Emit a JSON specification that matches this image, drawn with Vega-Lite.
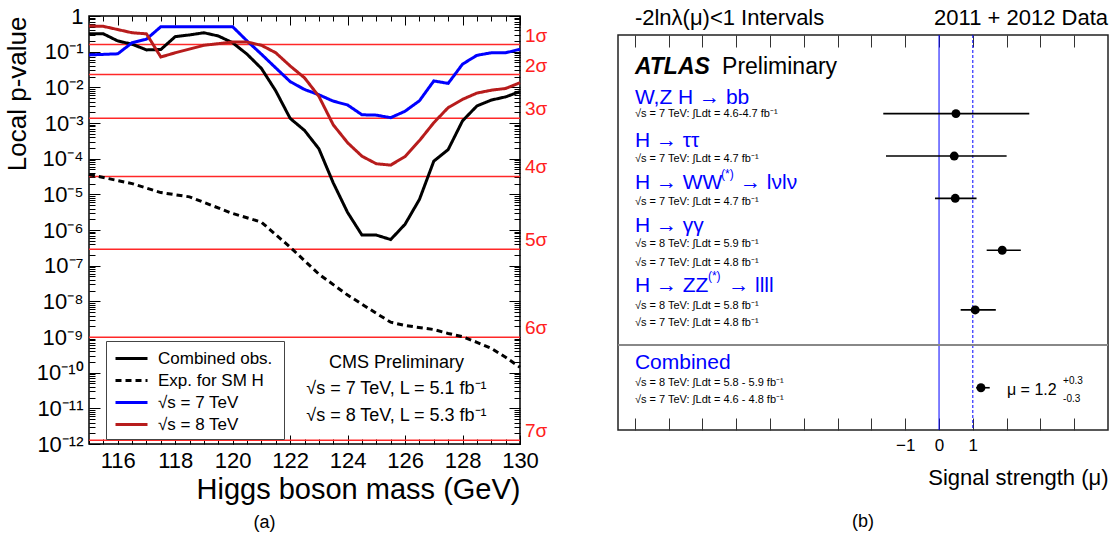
{
  "$schema": "https://vega.github.io/schema/vega-lite/v6.json",
  "background": "white",
  "padding": {"left": 3, "top": 4, "right": 0, "bottom": 5},
  "config": {
    "font": "Liberation Sans",
    "view": {"stroke": "black", "strokeWidth": 1.5},
    "axis": {"domain": false, "grid": false, "labelFlush": false, "labelOverlap": false, "tickColor": "black", "tickWidth": 1, "labelColor": "black", "titleColor": "black", "titleFontWeight": "normal", "labelFont": "Liberation Sans", "titleFont": "Liberation Sans"},
    "title": {"font": "Liberation Sans", "fontWeight": "normal", "color": "black"}
  },
  "datasets": {
    "sigma": [
      {"label": "1σ", "p": 0.1587}, {"label": "2σ", "p": 0.02275}, {"label": "3σ", "p": 0.00135},
      {"label": "4σ", "p": 3.17e-5}, {"label": "5σ", "p": 2.87e-7}, {"label": "6σ", "p": 9.87e-10}, {"label": "7σ", "p": 1.28e-12}
    ],
    "curves": [
      {"s": "Combined  obs.", "m": 115, "p": 0.319}, {"s": "Combined  obs.", "m": 115.5, "p": 0.316}, {"s": "Combined  obs.", "m": 116, "p": 0.2},
      {"s": "Combined  obs.", "m": 116.5, "p": 0.162}, {"s": "Combined  obs.", "m": 117, "p": 0.112}, {"s": "Combined  obs.", "m": 117.5, "p": 0.115},
      {"s": "Combined  obs.", "m": 118, "p": 0.263}, {"s": "Combined  obs.", "m": 118.5, "p": 0.295}, {"s": "Combined  obs.", "m": 119, "p": 0.339},
      {"s": "Combined  obs.", "m": 119.5, "p": 0.275}, {"s": "Combined  obs.", "m": 120, "p": 0.178}, {"s": "Combined  obs.", "m": 120.5, "p": 0.0851},
      {"s": "Combined  obs.", "m": 121, "p": 0.0339}, {"s": "Combined  obs.", "m": 121.5, "p": 0.00794}, {"s": "Combined  obs.", "m": 122, "p": 0.00135},
      {"s": "Combined  obs.", "m": 122.5, "p": 6.2e-4}, {"s": "Combined  obs.", "m": 123, "p": 1.9e-4}, {"s": "Combined  obs.", "m": 123.5, "p": 2.1e-5},
      {"s": "Combined  obs.", "m": 124, "p": 3.1e-6}, {"s": "Combined  obs.", "m": 124.5, "p": 7.2e-7}, {"s": "Combined  obs.", "m": 125, "p": 7.2e-7},
      {"s": "Combined  obs.", "m": 125.5, "p": 5.4e-7}, {"s": "Combined  obs.", "m": 126, "p": 1.45e-6}, {"s": "Combined  obs.", "m": 126.5, "p": 7.2e-6},
      {"s": "Combined  obs.", "m": 127, "p": 8.5e-5}, {"s": "Combined  obs.", "m": 127.5, "p": 1.8e-4}, {"s": "Combined  obs.", "m": 128, "p": 1.15e-3},
      {"s": "Combined  obs.", "m": 128.5, "p": 3.0e-3}, {"s": "Combined  obs.", "m": 129, "p": 4.4e-3}, {"s": "Combined  obs.", "m": 129.5, "p": 5.4e-3},
      {"s": "Combined  obs.", "m": 130, "p": 7.6e-3},
      {"s": "Exp. for SM H", "m": 115, "p": 3.6e-5}, {"s": "Exp. for SM H", "m": 116.5, "p": 2.0e-5}, {"s": "Exp. for SM H", "m": 117.5, "p": 1.12e-5},
      {"s": "Exp. for SM H", "m": 118.5, "p": 8.5e-6}, {"s": "Exp. for SM H", "m": 120, "p": 2.9e-6}, {"s": "Exp. for SM H", "m": 121, "p": 1.66e-6},
      {"s": "Exp. for SM H", "m": 122, "p": 3.3e-7}, {"s": "Exp. for SM H", "m": 123, "p": 5.8e-8}, {"s": "Exp. for SM H", "m": 124, "p": 1.5e-8},
      {"s": "Exp. for SM H", "m": 125, "p": 4.6e-9}, {"s": "Exp. for SM H", "m": 125.5, "p": 2.6e-9}, {"s": "Exp. for SM H", "m": 126, "p": 2.1e-9},
      {"s": "Exp. for SM H", "m": 127, "p": 1.62e-9}, {"s": "Exp. for SM H", "m": 127.5, "p": 1.26e-9}, {"s": "Exp. for SM H", "m": 128, "p": 1.02e-9},
      {"s": "Exp. for SM H", "m": 128.5, "p": 7.1e-10}, {"s": "Exp. for SM H", "m": 129, "p": 4.8e-10}, {"s": "Exp. for SM H", "m": 129.5, "p": 2.7e-10},
      {"s": "Exp. for SM H", "m": 130, "p": 1.41e-10},
      {"s": "√s = 7 TeV", "m": 115, "p": 0.081}, {"s": "√s = 7 TeV", "m": 116, "p": 0.087}, {"s": "√s = 7 TeV", "m": 116.5, "p": 0.178},
      {"s": "√s = 7 TeV", "m": 117, "p": 0.224}, {"s": "√s = 7 TeV", "m": 117.5, "p": 0.5}, {"s": "√s = 7 TeV", "m": 118, "p": 0.5},
      {"s": "√s = 7 TeV", "m": 119, "p": 0.5}, {"s": "√s = 7 TeV", "m": 120, "p": 0.5}, {"s": "√s = 7 TeV", "m": 120.5, "p": 0.2},
      {"s": "√s = 7 TeV", "m": 121, "p": 0.085}, {"s": "√s = 7 TeV", "m": 121.5, "p": 0.035}, {"s": "√s = 7 TeV", "m": 122, "p": 0.0145},
      {"s": "√s = 7 TeV", "m": 122.5, "p": 0.0087}, {"s": "√s = 7 TeV", "m": 123, "p": 0.0062}, {"s": "√s = 7 TeV", "m": 123.5, "p": 0.0041},
      {"s": "√s = 7 TeV", "m": 124, "p": 0.0032}, {"s": "√s = 7 TeV", "m": 124.5, "p": 0.0017}, {"s": "√s = 7 TeV", "m": 125, "p": 0.00166},
      {"s": "√s = 7 TeV", "m": 125.5, "p": 0.00141}, {"s": "√s = 7 TeV", "m": 126, "p": 0.00214}, {"s": "√s = 7 TeV", "m": 126.5, "p": 0.0042},
      {"s": "√s = 7 TeV", "m": 127, "p": 0.0151}, {"s": "√s = 7 TeV", "m": 127.5, "p": 0.0129}, {"s": "√s = 7 TeV", "m": 128, "p": 0.0447},
      {"s": "√s = 7 TeV", "m": 128.5, "p": 0.079}, {"s": "√s = 7 TeV", "m": 129, "p": 0.093}, {"s": "√s = 7 TeV", "m": 129.5, "p": 0.093},
      {"s": "√s = 7 TeV", "m": 130, "p": 0.117},
      {"s": "√s = 8 TeV", "m": 115, "p": 0.525}, {"s": "√s = 8 TeV", "m": 115.5, "p": 0.513}, {"s": "√s = 8 TeV", "m": 116.5, "p": 0.339},
      {"s": "√s = 8 TeV", "m": 117, "p": 0.316}, {"s": "√s = 8 TeV", "m": 117.5, "p": 0.0708}, {"s": "√s = 8 TeV", "m": 118, "p": 0.093},
      {"s": "√s = 8 TeV", "m": 119, "p": 0.151}, {"s": "√s = 8 TeV", "m": 120, "p": 0.186}, {"s": "√s = 8 TeV", "m": 120.5, "p": 0.186},
      {"s": "√s = 8 TeV", "m": 121, "p": 0.151}, {"s": "√s = 8 TeV", "m": 121.5, "p": 0.093}, {"s": "√s = 8 TeV", "m": 122, "p": 0.0398},
      {"s": "√s = 8 TeV", "m": 122.5, "p": 0.0185}, {"s": "√s = 8 TeV", "m": 123, "p": 0.0056}, {"s": "√s = 8 TeV", "m": 123.5, "p": 8.9e-4},
      {"s": "√s = 8 TeV", "m": 124, "p": 2.8e-4}, {"s": "√s = 8 TeV", "m": 124.5, "p": 1.17e-4}, {"s": "√s = 8 TeV", "m": 125, "p": 7.2e-5},
      {"s": "√s = 8 TeV", "m": 125.5, "p": 6.6e-5}, {"s": "√s = 8 TeV", "m": 126, "p": 1.15e-4}, {"s": "√s = 8 TeV", "m": 126.5, "p": 3.2e-4},
      {"s": "√s = 8 TeV", "m": 127, "p": 1.02e-3}, {"s": "√s = 8 TeV", "m": 127.5, "p": 2.7e-3}, {"s": "√s = 8 TeV", "m": 128, "p": 4.6e-3},
      {"s": "√s = 8 TeV", "m": 128.5, "p": 6.9e-3}, {"s": "√s = 8 TeV", "m": 129, "p": 8.3e-3}, {"s": "√s = 8 TeV", "m": 129.5, "p": 9.3e-3},
      {"s": "√s = 8 TeV", "m": 130, "p": 0.0135}
    ],
    "mu": [
      {"channel": "W,Z H → bb", "mu": 0.5, "lo": -1.65, "hi": 2.67, "row": 3.98},
      {"channel": "H → ττ", "mu": 0.45, "lo": -1.57, "hi": 2.0, "row": 6.13},
      {"channel": "H → WW → lνlν", "mu": 0.48, "lo": -0.12, "hi": 1.11, "row": 8.27},
      {"channel": "H → γγ", "mu": 1.87, "lo": 1.41, "hi": 2.42, "row": 10.9},
      {"channel": "H → ZZ → llll", "mu": 1.07, "lo": 0.64, "hi": 1.68, "row": 13.92},
      {"channel": "Combined", "mu": 1.24, "lo": 1.1, "hi": 1.5, "row": 17.86}
    ],
    "chanLabels": [
      {"text": "W,Z H → bb", "x": -9, "row": 3.17},
      {"text": "H → ττ", "x": -9, "row": 5.37},
      {"text": "H → WW", "x": -9, "row": 7.48},
      {"text": "→ lνlν", "x": -5.89, "row": 7.48},
      {"text": "H → γγ", "x": -9, "row": 9.67},
      {"text": "H → ZZ", "x": -9, "row": 12.71},
      {"text": "→ llll", "x": -6.24, "row": 12.71},
      {"text": "Combined", "x": -9, "row": 16.59}
    ],
    "stars": [
      {"text": "(*)", "x": -6.45, "row": 7.04},
      {"text": "(*)", "x": -6.84, "row": 12.2}
    ],
    "subLabels": [
      {"text": "√s = 7 TeV: ∫Ldt = 4.6-4.7 fb⁻¹", "row": 4.02},
      {"text": "√s = 7 TeV: ∫Ldt = 4.7 fb⁻¹", "row": 6.29},
      {"text": "√s = 7 TeV: ∫Ldt = 4.7 fb⁻¹", "row": 8.47},
      {"text": "√s = 8 TeV: ∫Ldt = 5.9 fb⁻¹", "row": 10.6},
      {"text": "√s = 7 TeV: ∫Ldt = 4.8 fb⁻¹", "row": 11.53},
      {"text": "√s = 8 TeV: ∫Ldt = 5.8 fb⁻¹", "row": 13.72},
      {"text": "√s = 7 TeV: ∫Ldt = 4.8 fb⁻¹", "row": 14.57},
      {"text": "√s = 8 TeV: ∫Ldt = 5.8 - 5.9 fb⁻¹", "row": 17.64},
      {"text": "√s = 7 TeV: ∫Ldt = 4.6 - 4.8 fb⁻¹", "row": 18.5}
    ]
  },
  "spacing": 67,
  "hconcat": [
    {
      "width": 431,
      "height": 428,
      "title": {"text": "(a)", "orient": "bottom", "anchor": "middle", "fontSize": 18, "dx": -40, "offset": 10},
      "resolve": {"axis": {"x": "independent", "y": "independent"}},
      "layer": [
        {
          "data": {"name": "sigma"},
          "mark": {"type": "rule", "color": "#ff2828", "strokeWidth": 1.5},
          "encoding": {
            "x": {"datum": 115, "type": "quantitative", "scale": {"domain": [115, 130], "nice": false, "zero": false},
                  "axis": {"orient": "top", "offset": -9, "tickSize": 9, "values": [116, 118, 120, 122, 124, 126, 128, 130], "labels": false, "title": null}},
            "x2": {"datum": 130},
            "y": {"field": "p", "type": "quantitative", "scale": {"type": "log", "domain": [1e-12, 1], "nice": false},
                  "axis": {"orient": "right", "offset": -11, "tickSize": 11, "values": [1e-12, 1e-11, 1e-10, 1e-9, 1e-8, 1e-7, 1e-6, 1e-5, 1e-4, 1e-3, 1e-2, 1e-1, 1], "labels": false, "title": null}}
          }
        },
        {
          "data": {"name": "curves"},
          "mark": {"type": "line", "strokeWidth": 3},
          "encoding": {
            "x": {"field": "m", "type": "quantitative", "scale": {"domain": [115, 130], "nice": false, "zero": false},
                  "axis": {"orient": "bottom", "offset": -9, "tickSize": 9, "values": [116, 118, 120, 122, 124, 126, 128, 130], "labelFontSize": 22, "labelPadding": 6,
                           "title": "Higgs boson mass (GeV)", "titleFontSize": 29, "titleAnchor": "end", "titlePadding": 4}},
            "y": {"field": "p", "type": "quantitative", "scale": {"type": "log", "domain": [1e-12, 1], "nice": false},
                  "axis": {"orient": "left", "offset": -11, "tickSize": 11, "values": [1e-12, 1e-11, 1e-10, 1e-9, 1e-8, 1e-7, 1e-6, 1e-5, 1e-4, 1e-3, 1e-2, 1e-1, 1],
                           "labelExpr": "['1','10⁻¹','10⁻²','10⁻³','10⁻⁴','10⁻⁵','10⁻⁶','10⁻⁷','10⁻⁸','10⁻⁹','10⁻¹⁰','10⁻¹¹','10⁻¹²'][round(-log(datum.value)/LN10)]",
                           "labelFontSize": 22, "labelPadding": 6, "title": "Local p-value", "titleFontSize": 26, "titleAnchor": "end", "titlePadding": 6}},
            "color": {"field": "s", "type": "nominal",
                      "scale": {"domain": ["Combined  obs.", "Exp. for SM H", "√s = 7 TeV", "√s = 8 TeV"], "range": ["black", "black", "#0000ff", "#b71c1c"]},
                      "legend": {"title": null, "orient": "none", "legendX": 17, "legendY": 325, "strokeColor": "#444", "fillColor": "white", "padding": 6,
                                 "symbolType": "M-1.6,0H1.6", "symbolSize": 400, "symbolStrokeWidth": 3, "symbolOffset": 8, "labelOffset": 15,
                                 "labelFontSize": 17, "labelFont": "Liberation Sans", "rowPadding": 2}},
            "strokeDash": {"field": "s", "type": "nominal",
                           "scale": {"domain": ["Combined  obs.", "Exp. for SM H", "√s = 7 TeV", "√s = 8 TeV"], "range": [[1, 0], [6, 4], [1, 0], [1, 0]]}}
          }
        },
        {
          "data": {"name": "sigma"},
          "mark": {"type": "text", "align": "left", "baseline": "middle", "dx": 5, "dy": -9, "fontSize": 19, "color": "#ff2020"},
          "encoding": {
            "x": {"datum": 130, "type": "quantitative", "scale": {"domain": [115, 130], "nice": false, "zero": false},
                  "axis": {"orient": "bottom", "offset": -5, "tickSize": 5,
                           "values": [115, 115.5, 116, 116.5, 117, 117.5, 118, 118.5, 119, 119.5, 120, 120.5, 121, 121.5, 122, 122.5, 123, 123.5, 124, 124.5, 125, 125.5, 126, 126.5, 127, 127.5, 128, 128.5, 129, 129.5, 130],
                           "labels": false, "title": null}},
            "y": {"field": "p", "type": "quantitative", "scale": {"type": "log", "domain": [1e-12, 1], "nice": false},
                  "axis": {"orient": "left", "offset": -6, "tickSize": 6,
                           "values": [2e-12, 3e-12, 4e-12, 5e-12, 6e-12, 7e-12, 8e-12, 9e-12, 2e-11, 3e-11, 4e-11, 5e-11, 6e-11, 7e-11, 8e-11, 9e-11, 2e-10, 3e-10, 4e-10, 5e-10, 6e-10, 7e-10, 8e-10, 9e-10, 2e-9, 3e-9, 4e-9, 5e-9, 6e-9, 7e-9, 8e-9, 9e-9, 2e-8, 3e-8, 4e-8, 5e-8, 6e-8, 7e-8, 8e-8, 9e-8, 2e-7, 3e-7, 4e-7, 5e-7, 6e-7, 7e-7, 8e-7, 9e-7, 2e-6, 3e-6, 4e-6, 5e-6, 6e-6, 7e-6, 8e-6, 9e-6, 2e-5, 3e-5, 4e-5, 5e-5, 6e-5, 7e-5, 8e-5, 9e-5, 2e-4, 3e-4, 4e-4, 5e-4, 6e-4, 7e-4, 8e-4, 9e-4, 2e-3, 3e-3, 4e-3, 5e-3, 6e-3, 7e-3, 8e-3, 9e-3, 0.02, 0.03, 0.04, 0.05, 0.06, 0.07, 0.08, 0.09, 0.2, 0.3, 0.4, 0.5, 0.6, 0.7, 0.8, 0.9],
                           "labels": false, "title": null}},
            "text": {"field": "label"}
          }
        },
        {
          "data": {"values": [{}]},
          "mark": {"type": "text", "align": "center", "baseline": "middle", "fontSize": 18, "lineHeight": 26.5,
                   "text": ["CMS Preliminary", "√s = 7 TeV, L = 5.1 fb⁻¹", "√s = 8 TeV, L = 5.3 fb⁻¹"]},
          "encoding": {
            "x": {"datum": 125.7, "type": "quantitative", "scale": {"domain": [115, 130], "nice": false, "zero": false},
                  "axis": {"orient": "top", "offset": -5, "tickSize": 5,
                           "values": [115, 115.5, 116, 116.5, 117, 117.5, 118, 118.5, 119, 119.5, 120, 120.5, 121, 121.5, 122, 122.5, 123, 123.5, 124, 124.5, 125, 125.5, 126, 126.5, 127, 127.5, 128, 128.5, 129, 129.5, 130],
                           "labels": false, "title": null}},
            "y": {"datum": 1.87e-10, "type": "quantitative", "scale": {"type": "log", "domain": [1e-12, 1], "nice": false},
                  "axis": {"orient": "right", "offset": -6, "tickSize": 6,
                           "values": [2e-12, 3e-12, 4e-12, 5e-12, 6e-12, 7e-12, 8e-12, 9e-12, 2e-11, 3e-11, 4e-11, 5e-11, 6e-11, 7e-11, 8e-11, 9e-11, 2e-10, 3e-10, 4e-10, 5e-10, 6e-10, 7e-10, 8e-10, 9e-10, 2e-9, 3e-9, 4e-9, 5e-9, 6e-9, 7e-9, 8e-9, 9e-9, 2e-8, 3e-8, 4e-8, 5e-8, 6e-8, 7e-8, 8e-8, 9e-8, 2e-7, 3e-7, 4e-7, 5e-7, 6e-7, 7e-7, 8e-7, 9e-7, 2e-6, 3e-6, 4e-6, 5e-6, 6e-6, 7e-6, 8e-6, 9e-6, 2e-5, 3e-5, 4e-5, 5e-5, 6e-5, 7e-5, 8e-5, 9e-5, 2e-4, 3e-4, 4e-4, 5e-4, 6e-4, 7e-4, 8e-4, 9e-4, 2e-3, 3e-3, 4e-3, 5e-3, 6e-3, 7e-3, 8e-3, 9e-3, 0.02, 0.03, 0.04, 0.05, 0.06, 0.07, 0.08, 0.09, 0.2, 0.3, 0.4, 0.5, 0.6, 0.7, 0.8, 0.9],
                           "labels": false, "title": null}}
          }
        }
      ]
    },
    {
      "spacing": 4,
      "vconcat": [
        {
          "width": 490,
          "height": 4,
          "view": {"stroke": null},
          "data": {"values": [{}]},
          "layer": [
            {
              "mark": {"type": "text", "align": "left", "baseline": "middle", "fontSize": 22, "text": "-2lnλ(μ)<1 Intervals"},
              "encoding": {"x": {"datum": -9, "type": "quantitative", "scale": {"domain": [-9.5, 5], "nice": false, "zero": false}, "axis": null}}
            },
            {
              "mark": {"type": "text", "align": "right", "baseline": "middle", "fontSize": 22, "text": "2011 + 2012 Data"},
              "encoding": {"x": {"datum": 5, "type": "quantitative", "scale": {"domain": [-9.5, 5], "nice": false, "zero": false}, "axis": null}}
            }
          ]
        },
        {
          "width": 490,
          "height": 395,
          "view": {"stroke": "#222", "strokeWidth": 1.5},
          "title": {"text": "(b)", "orient": "bottom", "anchor": "middle", "fontSize": 18, "offset": 25},
          "resolve": {"axis": {"x": "independent"}},
          "layer": [
            {
              "data": {"values": [{}]},
              "mark": {"type": "rule", "color": "#0000ff", "strokeWidth": 1},
              "encoding": {"x": {"datum": 0, "type": "quantitative", "scale": {"domain": [-9.5, 5], "nice": false, "zero": false}, "axis": null}}
            },
            {
              "data": {"values": [{}]},
              "mark": {"type": "rule", "color": "#0000ff", "strokeWidth": 1, "strokeDash": [3, 2]},
              "encoding": {"x": {"datum": 1, "type": "quantitative", "scale": {"domain": [-9.5, 5], "nice": false, "zero": false}, "axis": null}}
            },
            {
              "data": {"values": [{}]},
              "mark": {"type": "rule", "color": "#888888", "strokeWidth": 2},
              "encoding": {"y": {"datum": 15.7, "type": "quantitative", "scale": {"domain": [0, 20], "nice": false, "zero": false, "reverse": true}, "axis": null}}
            },
            {
              "data": {"name": "mu"},
              "mark": {"type": "rule", "color": "black", "strokeWidth": 1.6},
              "encoding": {
                "x": {"field": "lo", "type": "quantitative", "scale": {"domain": [-9.5, 5], "nice": false, "zero": false},
                      "axis": {"orient": "bottom", "offset": -12, "tickSize": 12, "tickColor": "#333", "values": [-9, -8, -7, -6, -5, -4, -3, -2, -1, 0, 1, 2, 3, 4],
                               "labelExpr": "abs(datum.value) <= 1 ? datum.label : ''", "labelFontSize": 17, "labelPadding": 7,
                               "title": "Signal strength (μ)", "titleFontSize": 22, "titleAnchor": "end", "titlePadding": 14}},
                "x2": {"field": "hi"},
                "y": {"field": "row", "type": "quantitative", "scale": {"domain": [0, 20], "nice": false, "zero": false, "reverse": true}, "axis": null}
              }
            },
            {
              "data": {"name": "mu"},
              "mark": {"type": "circle", "color": "black", "opacity": 1, "size": 80},
              "encoding": {
                "x": {"field": "mu", "type": "quantitative", "scale": {"domain": [-9.5, 5], "nice": false, "zero": false},
                      "axis": {"orient": "top", "offset": -12, "tickSize": 12, "tickColor": "#333", "values": [-9, -8, -7, -6, -5, -4, -3, -2, -1, 0, 1, 2, 3, 4], "labels": false, "title": null}},
                "y": {"field": "row", "type": "quantitative", "scale": {"domain": [0, 20], "nice": false, "zero": false, "reverse": true}, "axis": null}
              }
            },
            {
              "data": {"name": "chanLabels"},
              "mark": {"type": "text", "align": "left", "baseline": "middle", "fontSize": 21, "color": "#0000ff"},
              "encoding": {
                "x": {"field": "x", "type": "quantitative", "scale": {"domain": [-9.5, 5], "nice": false, "zero": false}, "axis": null},
                "y": {"field": "row", "type": "quantitative", "scale": {"domain": [0, 20], "nice": false, "zero": false, "reverse": true}, "axis": null},
                "text": {"field": "text"}
              }
            },
            {
              "data": {"name": "stars"},
              "mark": {"type": "text", "align": "left", "baseline": "middle", "fontSize": 12, "color": "#0000ff"},
              "encoding": {
                "x": {"field": "x", "type": "quantitative", "scale": {"domain": [-9.5, 5], "nice": false, "zero": false}, "axis": null},
                "y": {"field": "row", "type": "quantitative", "scale": {"domain": [0, 20], "nice": false, "zero": false, "reverse": true}, "axis": null},
                "text": {"field": "text"}
              }
            },
            {
              "data": {"name": "subLabels"},
              "mark": {"type": "text", "align": "left", "baseline": "middle", "fontSize": 11, "color": "black"},
              "encoding": {
                "x": {"datum": -9, "type": "quantitative", "scale": {"domain": [-9.5, 5], "nice": false, "zero": false}, "axis": null},
                "y": {"field": "row", "type": "quantitative", "scale": {"domain": [0, 20], "nice": false, "zero": false, "reverse": true}, "axis": null},
                "text": {"field": "text"}
              }
            },
            {
              "data": {"values": [{}]},
              "mark": {"type": "text", "align": "left", "baseline": "middle", "fontSize": 23, "fontStyle": "italic", "fontWeight": "bold", "text": "ATLAS"},
              "encoding": {
                "x": {"datum": -9, "type": "quantitative", "scale": {"domain": [-9.5, 5], "nice": false, "zero": false}, "axis": null},
                "y": {"datum": 1.6, "type": "quantitative", "scale": {"domain": [0, 20], "nice": false, "zero": false, "reverse": true}, "axis": null}
              }
            },
            {
              "data": {"values": [{}]},
              "mark": {"type": "text", "align": "left", "baseline": "middle", "fontSize": 23, "text": "Preliminary"},
              "encoding": {
                "x": {"datum": -6.42, "type": "quantitative", "scale": {"domain": [-9.5, 5], "nice": false, "zero": false}, "axis": null},
                "y": {"datum": 1.6, "type": "quantitative", "scale": {"domain": [0, 20], "nice": false, "zero": false, "reverse": true}, "axis": null}
              }
            },
            {
              "data": {"values": [{}]},
              "mark": {"type": "text", "align": "left", "baseline": "middle", "fontSize": 16, "text": "μ = 1.2"},
              "encoding": {
                "x": {"datum": 2.01, "type": "quantitative", "scale": {"domain": [-9.5, 5], "nice": false, "zero": false}, "axis": null},
                "y": {"datum": 17.97, "type": "quantitative", "scale": {"domain": [0, 20], "nice": false, "zero": false, "reverse": true}, "axis": null}
              }
            },
            {
              "data": {"values": [{"t": "+0.3", "row": 17.5}, {"t": "-0.3", "row": 18.43}]},
              "mark": {"type": "text", "align": "left", "baseline": "middle", "fontSize": 10},
              "encoding": {
                "x": {"datum": 3.67, "type": "quantitative", "scale": {"domain": [-9.5, 5], "nice": false, "zero": false}, "axis": null},
                "y": {"field": "row", "type": "quantitative", "scale": {"domain": [0, 20], "nice": false, "zero": false, "reverse": true}, "axis": null},
                "text": {"field": "t"}
              }
            }
          ]
        }
      ]
    }
  ]
}
